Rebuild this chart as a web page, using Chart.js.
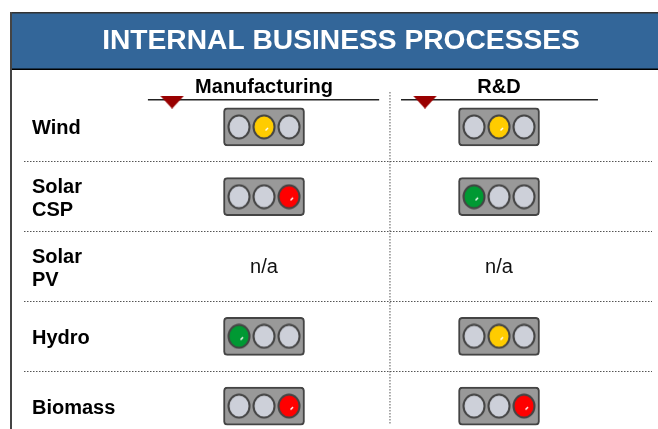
<!DOCTYPE html>
<html>
<head>
<meta charset="utf-8">
<title>Internal Business Processes</title>
<script src="https://cdn.jsdelivr.net/npm/chart.js@4"></script>
<style>
html,body{margin:0;padding:0;background:#fff;overflow:hidden;width:658px;height:429px;}
canvas{display:block;}
</style>
</head>
<body>
<canvas id="lights" width="658" height="441"></canvas>
<script>

// -------------------------------------
// DATA
// -------------------------------------

const titleText = "INTERNAL BUSINESS PROCESSES";
const columns = ["Manufacturing", "R&D"];
const rows = ["Wind", ["Solar", "CSP"], ["Solar", "PV"], "Hydro", "Biomass"];

// lit lamp per row, null = n/a
const manufacturing = ["yellow", "red", null, "green", "red"];
const rd = ["yellow", "green", null, "yellow", "red"];

// lamp order inside the housing
const lampOrder = ["green", "yellow", "red"];

// triangle marker position on the x scale, one per column
const markers = [-0.391, 0.685];


// -------------------------------------
// STYLE
// -------------------------------------

const FONT = "'Liberation Sans', Arial, sans-serif";
const lampColors = {off: "#CDD0D9", green: "#009933", yellow: "#FFCC00", red: "#FF0000"};
const SLOT = 0.1064;
const HOUSING = 0.1723;

function lampImage(color, glint){
  const c = document.createElement("canvas");
  c.width = 24;
  c.height = 26;
  const g = c.getContext("2d");
  g.beginPath();
  g.ellipse(12, 13, 10.5, 11.5, 0, 0, Math.PI * 2);
  g.fillStyle = color;
  g.fill();
  g.lineWidth = 2;
  g.strokeStyle = "#444444";
  g.stroke();
  if(glint){
    g.beginPath();
    g.moveTo(13.5, 16.5);
    g.lineTo(16, 14);
    g.lineWidth = 1.5;
    g.strokeStyle = "#FFFFFF";
    g.stroke();
  }
  return c;
}

function markerImage(){
  const c = document.createElement("canvas");
  c.width = 24;
  c.height = 13;
  const g = c.getContext("2d");
  g.beginPath();
  g.moveTo(0, 0);
  g.lineTo(24, 0);
  g.lineTo(12, 13);
  g.closePath();
  g.fillStyle = "#990000";
  g.fill();
  return c;
}


// -------------------------------------
// BUILD DATASETS
// -------------------------------------

const statusByColumn = [manufacturing, rd];

function housingData(col){
  return statusByColumn[col].map(s => s ? [col - HOUSING, col + HOUSING] : null);
}

function lampPoints(color){
  const points = [];
  statusByColumn.forEach((status, col) => {
    status.forEach((lit, row) => {
      if(!lit) return;
      lampOrder.forEach((name, slot) => {
        const key = name === lit ? lit : "off";
        if(key === color){
          points.push({x: col + (slot - 1) * SLOT, y: row});
        }
      });
    });
  });
  return points;
}

function housingDataset(col){
  return {
    type: "bar",
    indexAxis: "y",
    grouped: false,
    order: 2,
    data: housingData(col),
    backgroundColor: "#999999",
    borderColor: "#444444",
    borderWidth: 2,
    borderSkipped: false,
    borderRadius: 4,
    barThickness: 38
  };
}

function lampDataset(color){
  return {
    type: "scatter",
    order: 1,
    parsing: false,
    data: lampPoints(color),
    pointStyle: lampImage(lampColors[color], color !== "off"),
    pointRadius: 12
  };
}

function ruleDataset(from, to, y, color, dash){
  return {
    type: "line",
    order: 1,
    parsing: false,
    data: [{x: from, y: y}, {x: to, y: y}],
    borderColor: color,
    borderWidth: 1.5,
    borderDash: dash || [],
    pointRadius: 0
  };
}

const datasets = [
  housingDataset(0),
  housingDataset(1),
  lampDataset("off"),
  lampDataset("green"),
  lampDataset("yellow"),
  lampDataset("red"),
  ruleDataset(-0.494, 0.49, -0.39, "#222222"),
  ruleDataset(0.583, 1.421, -0.39, "#222222"),
  {
    type: "line",
    order: 1,
    parsing: false,
    data: [{x: 0.536, y: -0.5}, {x: 0.536, y: 4.27}],
    borderColor: "#555555",
    borderWidth: 1,
    borderDash: [1.5, 1.5],
    pointRadius: 0
  },
  {
    type: "scatter",
    order: 0,
    parsing: false,
    data: markers.map(m => ({x: m, y: -0.355})),
    pointStyle: markerImage(),
    pointRadius: 12
  }
];


// -------------------------------------
// FRAME, TITLE, COLUMN HEADS AND N/A
// -------------------------------------

const frame = {
  id: "frame",
  beforeDraw(chart){
    const ctx = chart.ctx;
    ctx.save();
    ctx.fillStyle = "#336699";
    ctx.fillRect(11, 12, 647, 57);
    ctx.fillStyle = "#333333";
    ctx.fillRect(10, 12, 648, 1.5);
    ctx.fillStyle = "#000000";
    ctx.fillRect(10, 68.5, 648, 1.5);
    ctx.fillStyle = "#444444";
    ctx.fillRect(10, 12, 2, 429);
    ctx.restore();
  },
  afterDraw(chart){
    const ctx = chart.ctx;
    const xs = chart.scales.x;
    const ys = chart.scales.y;
    ctx.save();
    ctx.textAlign = "center";
    ctx.textBaseline = "middle";
    ctx.fillStyle = "#FFFFFF";
    ctx.font = "bold 28.2px " + FONT;
    ctx.fillText(titleText, 341, 41);
    ctx.fillStyle = "#000000";
    ctx.font = "bold 20px " + FONT;
    columns.forEach((name, col) => {
      ctx.fillText(name, xs.getPixelForValue(col), 87);
    });
    ctx.fillStyle = "#111111";
    ctx.font = "20px " + FONT;
    statusByColumn.forEach((status, col) => {
      status.forEach((lit, row) => {
        if(!lit){
          ctx.fillText("n/a", xs.getPixelForValue(col), ys.getPixelForValue(row) + 1);
        }
      });
    });
    ctx.restore();
  }
};


// -------------------------------------
// CHART
// -------------------------------------

new Chart(document.getElementById("lights").getContext("2d"), {

type: "bar",

data: {
labels: rows,
datasets: datasets
},

plugins: [frame],

options: {
responsive: false,
animation: false,
layout: {autoPadding: false, padding: {left: 24, right: 6, top: 92, bottom: 0}},
plugins: {legend: {display: false}, tooltip: {enabled: false}},
scales: {
x: {
type: "linear",
position: "top",
offset: false,
min: -1.0213,
max: 1.651,
afterFit: scale => { scale.height = 0; },
grid: {display: false},
border: {display: false},
ticks: {display: false}
},
y: {
type: "category",
offset: true,
border: {display: false, dash: [1.5, 1.5]},
afterFit: scale => {
  scale.width = 0;
  scale.paddingTop = 0;
  scale.paddingBottom = 0;
},
grid: {
offset: true,
drawTicks: false,
lineWidth: 1,
color: ctx => (ctx.index === 0 || ctx.index === rows.length) ? "rgba(0,0,0,0)" : "#555555",
tickColor: "rgba(0,0,0,0)"
},
ticks: {
mirror: true,
padding: 8,
labelOffset: 2,
color: "#000000",
font: {family: FONT, size: 20, weight: "bold", lineHeight: 1.15}
}
}
}
}

});

</script>
</body>
</html>
